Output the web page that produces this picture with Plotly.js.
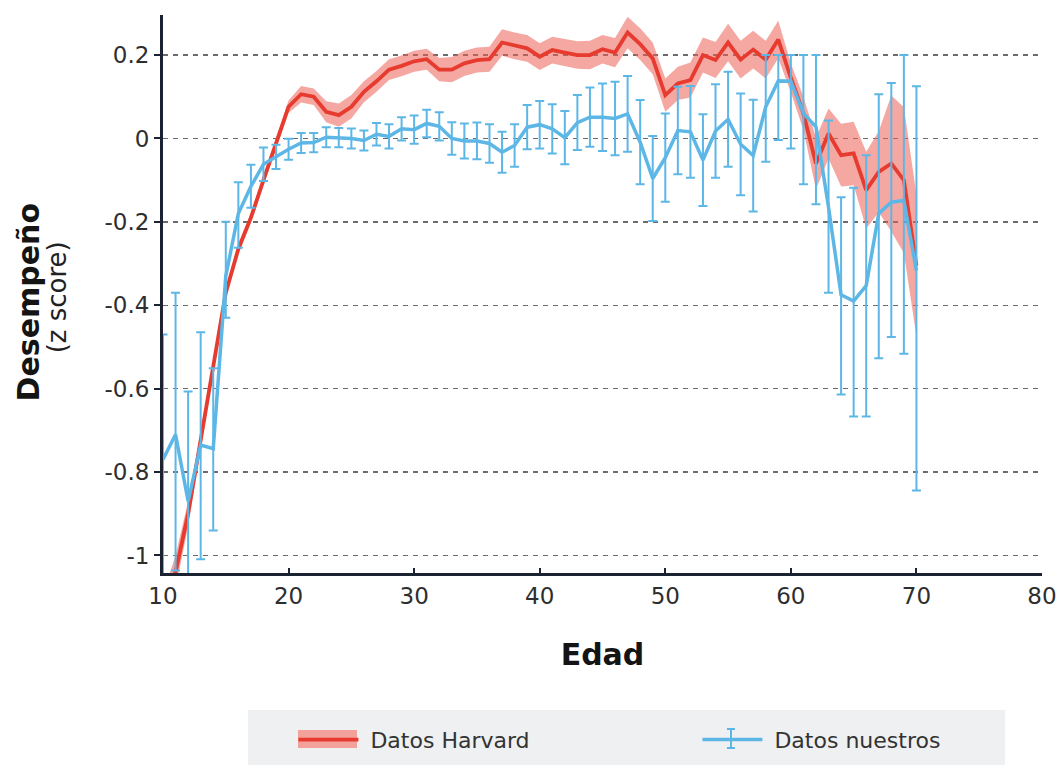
<!DOCTYPE html>
<html>
<head>
<meta charset="utf-8">
<script src="https://cdn.plot.ly/plotly-3.0.1.min.js"></script>
<style>
html,body{margin:0;padding:0;background:#fff;}
#chart{width:1057px;height:765px;}
</style>
</head>
<body>
<div id="chart"></div>
<script>
// ---- Data ----
const ages = [10,11,12,13,14,15,16,17,18,19,20,21,22,23,24,25,26,27,28,29,30,31,32,33,34,35,36,37,38,39,40,41,42,43,44,45,46,47,48,49,50,51,52,53,54,55,56,57,58,59,60,61,62,63,64,65,66,67,68,69,70];

// "Datos Harvard": mean z score and half-width of the shaded band
const harvardMean = [-1.14,-1.04,-0.90,-0.725,-0.554,-0.37,-0.265,-0.19,-0.10,-0.012,0.076,0.106,0.10,0.064,0.056,0.076,0.112,0.137,0.165,0.174,0.185,0.19,0.165,0.165,0.18,0.188,0.19,0.23,0.222,0.216,0.196,0.212,0.206,0.20,0.20,0.214,0.206,0.254,0.226,0.192,0.104,0.132,0.14,0.20,0.188,0.23,0.189,0.213,0.189,0.237,0.145,0.06,-0.06,0.012,-0.04,-0.036,-0.124,-0.08,-0.06,-0.10,-0.305];
const harvardBand = [0.05,0.04,0.03,0.02,0.015,0.012,0.012,0.012,0.012,0.012,0.015,0.02,0.02,0.025,0.028,0.028,0.025,0.025,0.025,0.025,0.025,0.025,0.028,0.03,0.03,0.03,0.03,0.032,0.032,0.032,0.032,0.032,0.033,0.033,0.034,0.034,0.035,0.038,0.038,0.038,0.04,0.04,0.042,0.042,0.043,0.045,0.045,0.045,0.045,0.045,0.035,0.04,0.062,0.06,0.075,0.076,0.092,0.097,0.163,0.175,0.17];

// "Datos nuestros": mean z score with error bars (upper / lower lengths)
const nuestrosMean = [-0.77,-0.71,-0.87,-0.735,-0.744,-0.33,-0.18,-0.115,-0.062,-0.044,-0.026,-0.011,-0.01,0.003,0.002,0.0,-0.005,0.01,0.005,0.023,0.021,0.036,0.029,0.0,-0.006,-0.006,-0.012,-0.033,-0.017,0.027,0.033,0.023,0.002,0.038,0.051,0.051,0.048,0.059,-0.009,-0.096,-0.046,0.019,0.016,-0.052,0.018,0.046,-0.014,-0.041,0.076,0.138,0.137,0.06,0.028,-0.165,-0.375,-0.39,-0.353,-0.18,-0.153,-0.149,-0.317];
const nuestrosErrUp = [0.30,0.34,0.263,0.27,0.193,0.13,0.075,0.052,0.04,0.029,0.025,0.024,0.023,0.024,0.023,0.024,0.024,0.027,0.029,0.028,0.034,0.033,0.034,0.039,0.042,0.044,0.046,0.049,0.051,0.053,0.057,0.059,0.064,0.066,0.071,0.081,0.088,0.091,0.101,0.102,0.106,0.105,0.11,0.11,0.112,0.114,0.122,0.134,0.124,0.062,0.063,0.14,0.172,0.208,0.234,0.272,0.313,0.286,0.286,0.349,0.442];
const nuestrosErrDown = [0.30,0.326,0.195,0.274,0.196,0.10,0.082,0.051,0.04,0.029,0.025,0.024,0.023,0.024,0.023,0.024,0.024,0.027,0.029,0.028,0.034,0.033,0.034,0.039,0.042,0.044,0.046,0.049,0.051,0.053,0.057,0.059,0.064,0.066,0.071,0.081,0.088,0.091,0.101,0.102,0.106,0.105,0.11,0.11,0.112,0.114,0.122,0.134,0.132,0.142,0.161,0.17,0.186,0.205,0.239,0.277,0.314,0.347,0.323,0.367,0.527];

const xTicks = [10,20,30,40,50,60,70,80];
const yTicks = [-1,-0.8,-0.6,-0.4,-0.2,0,0.2];
const yTickText = ['-1','-0.8','-0.6','-0.4','-0.2','0','0.2'];

// ---- Build traces ----
const upper = harvardMean.map((m,i)=>m+harvardBand[i]);
const lower = harvardMean.map((m,i)=>m-harvardBand[i]);

const FONT = 'DejaVu Sans, Verdana, sans-serif';
const RED = '#e63b2e';
const PINK = 'rgba(236,95,85,0.55)';
const BLUE = '#5db7e6';
const AXIS = '#1b2333';
const NBSP = '\u00a0';

const traces = [
  {
    x: ages.concat(ages.slice().reverse()),
    y: upper.concat(lower.slice().reverse()),
    type: 'scatter', mode: 'lines', fill: 'toself',
    fillcolor: PINK, line: {width: 0, color: PINK},
    showlegend: false, hoverinfo: 'skip'
  },
  {
    x: ages, y: harvardMean, type: 'scatter', mode: 'lines',
    name: NBSP + 'Datos Harvard', line: {color: RED, width: 3.8}
  },
  {
    x: ages, y: nuestrosMean, type: 'scatter', mode: 'lines',
    name: NBSP + 'Datos nuestros', line: {color: BLUE, width: 3.5},
    cliponaxis: false,
    error_y: {type: 'data', symmetric: false, array: nuestrosErrUp, arrayminus: nuestrosErrDown,
              color: BLUE, thickness: 2, width: 4.5}
  }
];

const layout = {
  width: 1057, height: 765,
  margin: {l: 163, r: 15, t: 15, b: 192},
  paper_bgcolor: '#ffffff', plot_bgcolor: '#ffffff',
  font: {family: FONT, color: '#333333', size: 20},
  showlegend: true,
  xaxis: {
    range: [10, 80], tickvals: xTicks, ticks: 'inside', ticklen: 5, tickwidth: 2, tickcolor: AXIS,
    showline: true, linecolor: AXIS, linewidth: 3, showgrid: false, zeroline: false,
    tickfont: {family: FONT, size: 23, color: '#2e2e2e'},
    title: {text: '<b>Edad</b>', font: {family: FONT, size: 30, color: '#141414'}, standoff: 37}
  },
  yaxis: {
    range: [-1.042, 0.296], tickvals: yTicks, ticktext: yTickText,
    ticks: 'outside', ticklen: 6, tickwidth: 2, tickcolor: AXIS,
    showline: true, linecolor: AXIS, linewidth: 3,
    showgrid: true, gridcolor: '#6b6b6b', gridwidth: 1.3, griddash: '5px,5px', zeroline: false,
    tickfont: {family: FONT, size: 23, color: '#2e2e2e'}
  },
  annotations: [
    {text: '<b>Desempeño</b>', xref: 'paper', yref: 'paper', x: -0.1535, y: 0.485,
     textangle: -90, showarrow: false, xanchor: 'center', yanchor: 'middle',
     font: {family: FONT, size: 30, color: '#141414'}},
    {text: '(z score)', xref: 'paper', yref: 'paper', x: -0.1206, y: 0.494,
     textangle: -90, showarrow: false, xanchor: 'center', yanchor: 'middle',
     font: {family: FONT, size: 26, color: '#222'}}
  ],
  legend: {
    orientation: 'h', xref: 'container', yref: 'container',
    x: 0.2776, xanchor: 'left', y: 0.033, yanchor: 'middle',
    bgcolor: 'rgba(0,0,0,0)', itemwidth: 60, entrywidthmode: 'pixels', entrywidth: 329,
    font: {family: FONT, size: 22, color: '#333'}, traceorder: 'normal'
  },
  shapes: [
    {type: 'rect', xref: 'paper', yref: 'paper', x0: 0.0967, x1: 0.958, y0: -0.344, y1: -0.2455,
     fillcolor: '#eff0f2', line: {width: 0}, layer: 'below'},
    {type: 'rect', xref: 'paper', yref: 'paper', x0: 0.1536, x1: 0.2207, y0: -0.3136, y1: -0.2814,
     fillcolor: '#f2a29b', line: {width: 0}, layer: 'below'},
    {type: 'line', xref: 'paper', yref: 'paper', x0: 0.6462, x1: 0.6462, y0: -0.3136, y1: -0.2796,
     line: {color: BLUE, width: 2}},
    {type: 'line', xref: 'paper', yref: 'paper', x0: 0.6416, x1: 0.6507, y0: -0.3136, y1: -0.3136,
     line: {color: BLUE, width: 2}},
    {type: 'line', xref: 'paper', yref: 'paper', x0: 0.6416, x1: 0.6507, y0: -0.2796, y1: -0.2796,
     line: {color: BLUE, width: 2}}
  ]
};

Plotly.newPlot('chart', traces, layout, {displayModeBar: false, staticPlot: true});
</script>
</body>
</html>
